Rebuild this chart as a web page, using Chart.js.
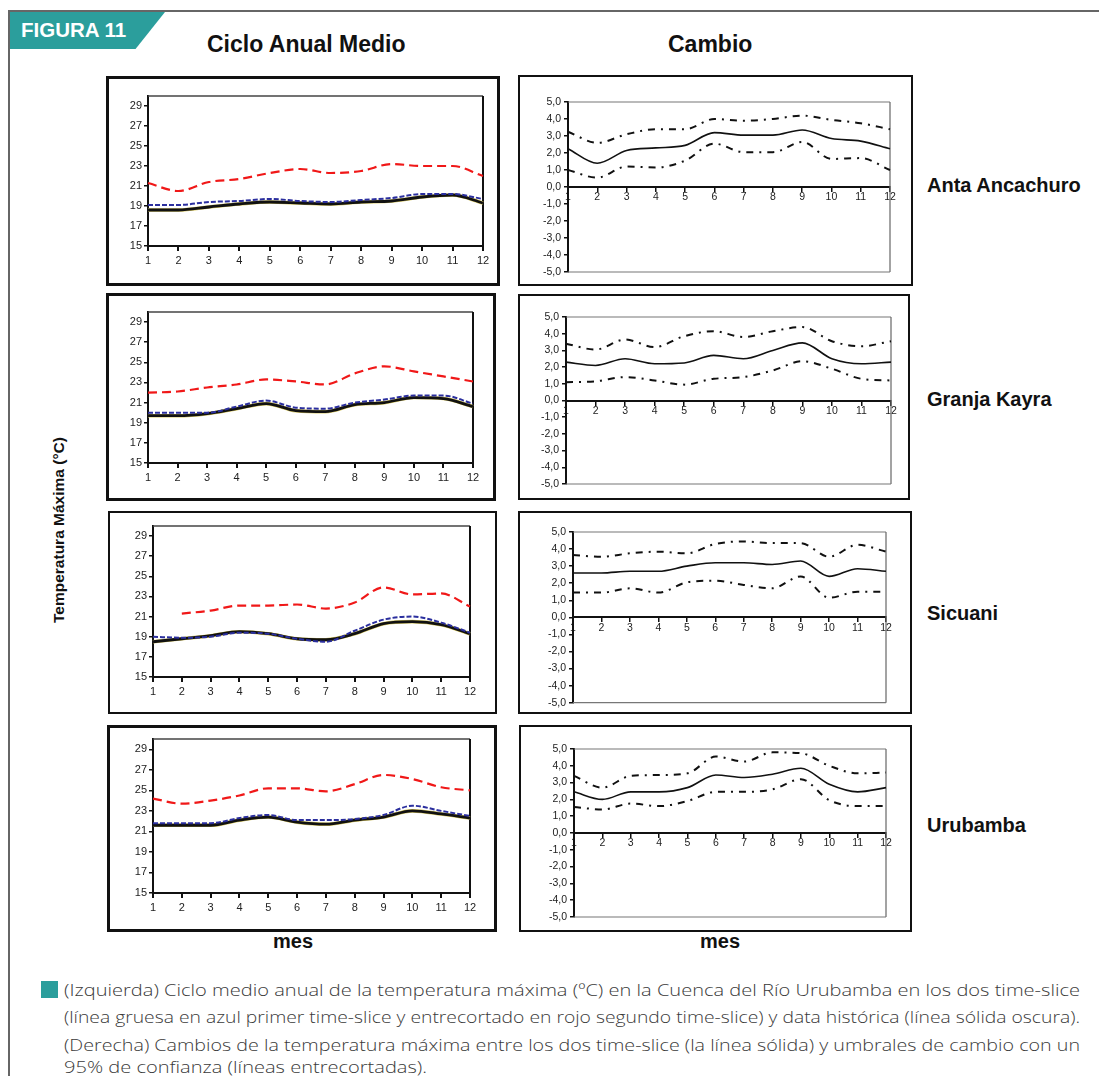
<!DOCTYPE html>
<html>
<head>
<meta charset="utf-8">
<script src="https://cdn.jsdelivr.net/npm/chart.js@4.4.1/dist/chart.umd.min.js"></script>
<style>
body{margin:0;width:1099px;height:1076px;position:relative;background:#fff;overflow:hidden;font-family:"Liberation Sans",Arial,sans-serif;color:#111}
.abs{position:absolute;white-space:nowrap}
.box{position:absolute;box-sizing:border-box;border-style:solid;border-color:#111}
.box canvas{display:block}
.title{font-weight:bold;font-size:23px}
.station{font-weight:bold;font-size:20px;left:927px}
.mes{font-weight:bold;font-size:20px;top:930px}
.cap{left:64px;font-family:"Open Sans",sans-serif;font-weight:300;font-size:17px;color:#3a3a3a;transform-origin:0 50%;line-height:22px}
</style>
</head>
<body>
<div class="abs" style="left:8px;top:10px;width:1091px;height:2px;background:#666"></div>
<div class="abs" style="left:8px;top:10px;width:2px;height:1066px;background:#666"></div>
<div class="abs" style="left:10px;top:12px;width:155px;height:37px;background:#2b9e9c;clip-path:polygon(0 0,100% 0,81% 100%,0 100%)"></div>
<div class="abs" style="left:21px;top:18px;color:#fff;font-weight:bold;font-size:20.5px">FIGURA 11</div>
<div class="abs title" style="left:207px;top:31px">Ciclo Anual Medio</div>
<div class="abs title" style="left:668px;top:31px">Cambio</div>
<div class="abs" style="left:59px;top:530px;font-weight:bold;font-size:15.5px;transform:translate(-50%,-50%) rotate(-90deg)">Temperatura Máxima (°C)</div>
<div class="abs station" style="top:174px">Anta Ancachuro</div>
<div class="abs station" style="top:388px">Granja Kayra</div>
<div class="abs station" style="top:602px">Sicuani</div>
<div class="abs station" style="top:814px">Urubamba</div>
<div class="abs mes" style="left:273px">mes</div>
<div class="abs mes" style="left:700px">mes</div>
<div class="abs" style="left:41px;top:981px;width:17px;height:17px;background:#2b9e9c"></div>
<div class="abs cap" id="c1" style="top:979px">(Izquierda) Ciclo medio anual de la temperatura máxima (ºC) en la Cuenca del Río Urubamba en los dos time-slice</div>
<div class="abs cap" id="c2" style="top:1006px">(línea gruesa en azul primer time-slice y entrecortado en rojo segundo time-slice) y data histórica (línea sólida oscura).</div>
<div class="abs cap" id="c3" style="top:1034px">(Derecha) Cambios de la temperatura máxima entre los dos time-slice (la línea sólida) y umbrales de cambio con un</div>
<div class="abs cap" id="c4" style="top:1056px">95% de confianza (líneas entrecortadas).</div>

<script>
// months and ticks
var months = ['1','2','3','4','5','6','7','8','9','10','11','12'];
var yTicksCiclo = [15, 17, 19, 21, 23, 25, 27, 29];
var yTicksCambio = [-5, -4, -3, -2, -1, 0, 1, 2, 3, 4, 5];

// Anta Ancachuro
var antaHist   = [18.6, 18.6, 18.9, 19.2, 19.4, 19.3, 19.2, 19.4, 19.5, 19.9, 20.1, 19.3];
var antaSlice1 = [19.1, 19.1, 19.4, 19.5, 19.7, 19.5, 19.4, 19.6, 19.8, 20.2, 20.2, 19.7];
var antaSlice2 = [21.3, 20.5, 21.4, 21.7, 22.3, 22.7, 22.3, 22.5, 23.2, 23.0, 23.0, 22.0];
var antaCambio = [2.25, 1.4, 2.15, 2.3, 2.45, 3.2, 3.05, 3.05, 3.35, 2.85, 2.7, 2.25];
var antaSup    = [3.25, 2.6, 3.1, 3.4, 3.4, 4.0, 3.9, 4.0, 4.2, 3.95, 3.75, 3.4];
var antaInf    = [1.0, 0.55, 1.2, 1.15, 1.55, 2.55, 2.05, 2.05, 2.65, 1.65, 1.7, 1.0];

// Granja Kayra
var kayraHist   = [19.7, 19.7, 19.9, 20.4, 20.9, 20.2, 20.1, 20.8, 21.0, 21.5, 21.4, 20.6];
var kayraSlice1 = [20.0, 20.0, 20.0, 20.6, 21.2, 20.5, 20.4, 21.0, 21.3, 21.7, 21.7, 20.9];
var kayraSlice2 = [22.0, 22.1, 22.5, 22.8, 23.3, 23.1, 22.8, 23.9, 24.6, 24.1, 23.6, 23.1];
var kayraCambio = [2.3, 2.1, 2.5, 2.2, 2.25, 2.7, 2.5, 3.0, 3.45, 2.5, 2.2, 2.3];
var kayraSup    = [3.4, 3.05, 3.65, 3.2, 3.85, 4.15, 3.8, 4.15, 4.4, 3.55, 3.25, 3.55];
var kayraInf    = [1.1, 1.15, 1.4, 1.2, 0.95, 1.3, 1.4, 1.8, 2.35, 1.9, 1.3, 1.2];

// Sicuani
var sicuHist   = [18.5, 18.8, 19.1, 19.5, 19.3, 18.8, 18.7, 19.3, 20.3, 20.5, 20.2, 19.3];
var sicuSlice1 = [19.0, 18.9, 19.0, 19.4, 19.3, 18.8, 18.5, 19.6, 20.7, 21.0, 20.4, 19.4];
var sicuSlice2 = [null, 21.3, 21.6, 22.1, 22.1, 22.2, 21.8, 22.4, 23.9, 23.2, 23.3, 22.0];
var sicuCambio = [2.6, 2.6, 2.7, 2.7, 3.0, 3.2, 3.2, 3.1, 3.3, 2.4, 2.85, 2.7];
var sicuSup    = [3.65, 3.55, 3.75, 3.85, 3.75, 4.3, 4.45, 4.35, 4.35, 3.55, 4.25, 3.85];
var sicuInf    = [1.45, 1.45, 1.7, 1.45, 2.05, 2.15, 1.9, 1.7, 2.4, 1.15, 1.5, 1.5];

// Urubamba
var uruHist   = [21.6, 21.6, 21.6, 22.1, 22.4, 21.9, 21.7, 22.1, 22.4, 23.0, 22.7, 22.3];
var uruSlice1 = [21.8, 21.8, 21.8, 22.3, 22.6, 22.1, 22.1, 22.2, 22.6, 23.5, 23.0, 22.5];
var uruSlice2 = [24.2, 23.7, 24.0, 24.5, 25.2, 25.2, 24.9, 25.6, 26.5, 26.1, 25.3, 25.0];
var uruCambio = [2.45, 2.0, 2.45, 2.45, 2.7, 3.45, 3.3, 3.5, 3.85, 2.9, 2.45, 2.7];
var uruSup    = [3.4, 2.7, 3.4, 3.45, 3.55, 4.55, 4.25, 4.8, 4.75, 4.0, 3.55, 3.6];
var uruInf    = [1.55, 1.4, 1.75, 1.6, 1.9, 2.45, 2.45, 2.6, 3.2, 1.95, 1.6, 1.6];

// panel boxes (page px) and plot edges
var leftBoxes = [
  {x:106, y:76,  w:394, h:210, bw:3, pl:148, pr:483, pt:96,  pb:246},
  {x:106, y:293, w:390, h:208, bw:3, pl:148, pr:473, pt:312, pb:463},
  {x:108, y:511, w:389, h:203, bw:2, pl:153, pr:470, pt:526, pb:677},
  {x:107, y:725, w:390, h:207, bw:3, pl:153, pr:470, pt:739, pb:893}
];
var rightBoxes = [
  {x:518, y:75,  w:395, h:211, bw:2, pl:568, pr:890, pt:102, pb:272},
  {x:518, y:294, w:392, h:206, bw:2, pl:566, pr:891, pt:317, pb:484},
  {x:518, y:511, w:394, h:203, bw:2, pl:573, pr:886, pt:532, pb:703},
  {x:519, y:725, w:393, h:207, bw:2, pl:574, pr:886, pt:749, pb:917}
];

Chart.defaults.font.family = "'Liberation Sans', Arial, sans-serif";
Chart.defaults.color = '#222';

var framePlugin = {
  id: 'frame',
  beforeDatasetsDraw: function(chart, args, o) {
    var a = chart.chartArea, ctx = chart.ctx;
    ctx.save();
    function ln(col, x1, y1, x2, y2, w) {
      if (!col) return;
      ctx.strokeStyle = col; ctx.lineWidth = w;
      ctx.beginPath(); ctx.moveTo(x1, y1); ctx.lineTo(x2, y2); ctx.stroke();
    }
    ln(o.top, a.left, a.top, a.right, a.top, o.topW);
    ln(o.right, a.right, a.top, a.right, a.bottom, o.rightW);
    ln(o.bottom, a.left, a.bottom, a.right, a.bottom, o.bottomW);
    ctx.restore();
  }
};

function frameCanvas(b) {
  var d = document.createElement('div');
  d.className = 'box';
  d.style.left = b.x + 'px'; d.style.top = b.y + 'px';
  d.style.width = b.w + 'px'; d.style.height = b.h + 'px';
  d.style.borderWidth = b.bw + 'px';
  var c = document.createElement('canvas');
  c.width = b.w - 2 * b.bw; c.height = b.h - 2 * b.bw;
  d.appendChild(c);
  document.body.appendChild(d);
  return c;
}

function cicloChart(b, hist, s1, s2) {
  var c = frameCanvas(b);
  var ix = b.x + b.bw, iy = b.y + b.bw, ir = b.x + b.w - b.bw, ib = b.y + b.h - b.bw;
  new Chart(c, {
    type: 'line',
    data: {labels: months, datasets: [
      {data: s1, borderColor: '#2b2f9e', borderWidth: 2, borderDash: [5, 2]},
      {data: s2, borderColor: '#f01818', borderWidth: 2.2, borderDash: [9, 5]},
      {data: hist, borderColor: '#111', borderWidth: 2.8},
      {data: hist, borderColor: '#d8c860', borderWidth: 3.6}
    ]},
    options: {
      responsive: false, animation: false, events: [],
      layout: {padding: {top: b.pt - iy, right: ir - b.pr, left: 0, bottom: 0}},
      elements: {point: {radius: 0}, line: {cubicInterpolationMode: 'monotone'}},
      plugins: {legend: {display: false}, tooltip: {enabled: false},
        frame: {top: '#444', topW: 1.5, right: '#111', rightW: 2, bottom: null}},
      scales: {
        x: {offset: false,
          grid: {drawOnChartArea: false, tickLength: 5, color: '#111', lineWidth: 2},
          border: {color: '#111', width: 2},
          ticks: {font: {size: 11}, maxRotation: 0, autoSkip: false, padding: 3},
          afterFit: function(s) { s.height = ib - b.pb; }},
        y: {min: 15, max: 30,
          afterBuildTicks: function(s) { s.ticks = yTicksCiclo.map(function(v) { return {value: v}; }); },
          grid: {drawOnChartArea: false, tickLength: 4, color: '#111', lineWidth: 1.5},
          border: {color: '#111', width: 2},
          ticks: {font: {size: 11}, padding: 2},
          afterFit: function(s) { s.width = b.pl - ix; }}
      }
    },
    plugins: [framePlugin]
  });
}

function cambioChart(b, cambio, sup, inf) {
  var c = frameCanvas(b);
  var ix = b.x + b.bw, iy = b.y + b.bw, ir = b.x + b.w - b.bw, ib = b.y + b.h - b.bw;
  var th = {borderColor: '#111', borderWidth: 2, borderDash: [7, 6, 2, 6]};
  new Chart(c, {
    type: 'line',
    data: {labels: months, datasets: [
      Object.assign({data: sup}, th),
      Object.assign({data: inf}, th),
      {data: cambio, borderColor: '#111', borderWidth: 1.6}
    ]},
    options: {
      responsive: false, animation: false, events: [],
      layout: {padding: {top: b.pt - iy, right: ir - b.pr, left: 0, bottom: ib - b.pb}},
      elements: {point: {radius: 0}, line: {cubicInterpolationMode: 'monotone'}},
      plugins: {legend: {display: false}, tooltip: {enabled: false},
        frame: {top: '#777', topW: 1.2, right: '#666', rightW: 1.2, bottom: '#777', bottomW: 1.2}},
      scales: {
        x: {position: {y: 0}, offset: false,
          grid: {drawOnChartArea: false, tickLength: 4, color: '#111', lineWidth: 1.5},
          border: {color: '#111', width: 2},
          ticks: {font: {size: 10.5}, maxRotation: 0, autoSkip: false, padding: 0}},
        y: {min: -5, max: 5,
          afterBuildTicks: function(s) { s.ticks = yTicksCambio.map(function(v) { return {value: v}; }); },
          grid: {drawOnChartArea: false, tickLength: 4, color: '#111', lineWidth: 1.5},
          border: {color: '#111', width: 2},
          ticks: {font: {size: 10.5}, padding: 3,
            callback: function(v) { return v.toFixed(1).replace('.', ','); }},
          afterFit: function(s) { s.width = b.pl - ix; }}
      }
    },
    plugins: [framePlugin]
  });
}

cicloChart(leftBoxes[0], antaHist, antaSlice1, antaSlice2);
cicloChart(leftBoxes[1], kayraHist, kayraSlice1, kayraSlice2);
cicloChart(leftBoxes[2], sicuHist, sicuSlice1, sicuSlice2);
cicloChart(leftBoxes[3], uruHist, uruSlice1, uruSlice2);
cambioChart(rightBoxes[0], antaCambio, antaSup, antaInf);
cambioChart(rightBoxes[1], kayraCambio, kayraSup, kayraInf);
cambioChart(rightBoxes[2], sicuCambio, sicuSup, sicuInf);
cambioChart(rightBoxes[3], uruCambio, uruSup, uruInf);

// caption lines stretched to the printed width
var capW = 1016, k = 1;
['c1', 'c2', 'c3'].forEach(function(id, i) {
  var el = document.getElementById(id);
  var s = capW / el.getBoundingClientRect().width;
  if (i === 0) k = s;
  el.style.transform = 'scaleX(' + s + ')';
});
document.getElementById('c4').style.transform = 'scaleX(' + k + ')';
</script>
</body>
</html>
